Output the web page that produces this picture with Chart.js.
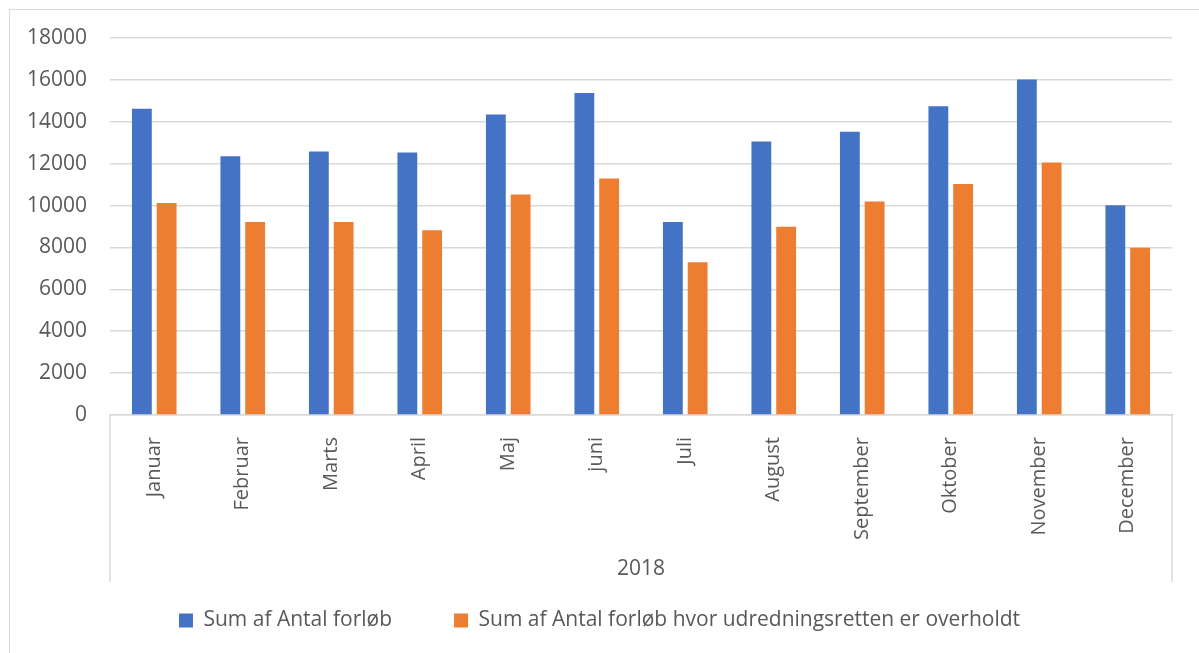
<!DOCTYPE html>
<html>
<head>
<meta charset="utf-8">
<script src="https://cdn.jsdelivr.net/npm/chart.js@4.4.1/dist/chart.umd.min.js"></script>
<style>
    html, body { margin: 0; padding: 0; background: #fff; overflow: hidden; }
    #frame {
        position: absolute; left: 9px; top: 9px;
        width: 1230px; height: 700px;
        border: 1px solid #d9d9d9;
    }
    #wrap { position: absolute; left: 10px; top: 10px; width: 1189px; height: 643px; }
</style>
</head>
<body>
<div id="frame"></div>
<div id="wrap"><canvas id="chart"></canvas></div>
<script>
const months = ['Januar', 'Februar', 'Marts', 'April', 'Maj', 'juni', 'Juli', 'August',
    'September', 'Oktober', 'November', 'December'];
const totalForloeb = [14620, 12350, 12580, 12530, 14350, 15370, 9220, 13060, 13520, 14740, 16020, 10020];
const overholdt = [10120, 9210, 9220, 8820, 10530, 11290, 7290, 8990, 10190, 11030, 12060, 7980];
const seriesNames = ['Sum af Antal forløb', 'Sum af Antal forløb hvor udredningsretten er overholdt'];
const yearLabel = '2018';

const textColor = '#595959';
const gridColor = '#d9d9d9';
const fontFamily = 'Open Sans';

// draws the box round the category axis (Excel multi-level axis look)
const axisBoxPlugin = {
    id: 'axisBox',
    afterDraw(chart) {
        const {ctx, chartArea, scales} = chart;
        const bottom = scales.x.bottom - 8;
        ctx.save();
        ctx.strokeStyle = gridColor;
        ctx.lineWidth = 1.5;
        ctx.beginPath();
        ctx.moveTo(chartArea.left, chartArea.bottom);
        ctx.lineTo(chartArea.left, bottom);
        ctx.moveTo(chartArea.right, chartArea.bottom);
        ctx.lineTo(chartArea.right, bottom);
        ctx.stroke();
        ctx.restore();
    }
};

new Chart(document.getElementById('chart').getContext('2d'), {
    type: 'bar',
    data: {
        labels: months,
        datasets: [{
            label: seriesNames[0],
            data: totalForloeb,
            backgroundColor: '#4472c4',
            categoryPercentage: 0.56,
            barPercentage: 0.8
        }, {
            label: seriesNames[1],
            data: overholdt,
            backgroundColor: '#ed7d31',
            categoryPercentage: 0.56,
            barPercentage: 0.8
        }]
    },
    options: {
        responsive: true,
        maintainAspectRatio: false,
        animation: false,
        layout: {padding: {left: 17, right: 27, top: 28, bottom: 12}},
        scales: {
            y: {
                min: 0, max: 18000,
                ticks: {
                    stepSize: 2000, color: textColor, font: {family: fontFamily, size: 21}, padding: 23,
                    callback: v => String(v)
                },
                grid: {color: gridColor, lineWidth: 1.5, drawTicks: false},
                border: {display: false},
                afterFit: s => { s.width = 83; s.paddingTop = 0; s.paddingBottom = 0; }
            },
            x: {
                ticks: {color: textColor, font: {family: fontFamily, size: 20}, maxRotation: 90, minRotation: 90, padding: 14},
                grid: {display: false},
                border: {color: gridColor, width: 1.5},
                title: {display: true, text: yearLabel, color: textColor, font: {family: fontFamily, size: 21}, padding: {top: 22, bottom: 8}},
                afterFit: s => { s.height = 175; s.paddingLeft = 0; s.paddingRight = 0; }
            }
        },
        plugins: {
            legend: {
                position: 'bottom',
                labels: {
                    color: textColor,
                    font: {family: fontFamily, size: 21},
                    boxWidth: 14, boxHeight: 14, padding: 20,
                    generateLabels(chart) {
                        const items = Chart.defaults.plugins.legend.labels.generateLabels(chart);
                        items[0].text = items[0].text + '\u2003\u2003';
                        items.forEach(it => { it.lineWidth = 0; });
                        return items;
                    }
                }
            },
            tooltip: {enabled: false}
        }
    },
    plugins: [axisBoxPlugin]
});
</script>
</body>
</html>
